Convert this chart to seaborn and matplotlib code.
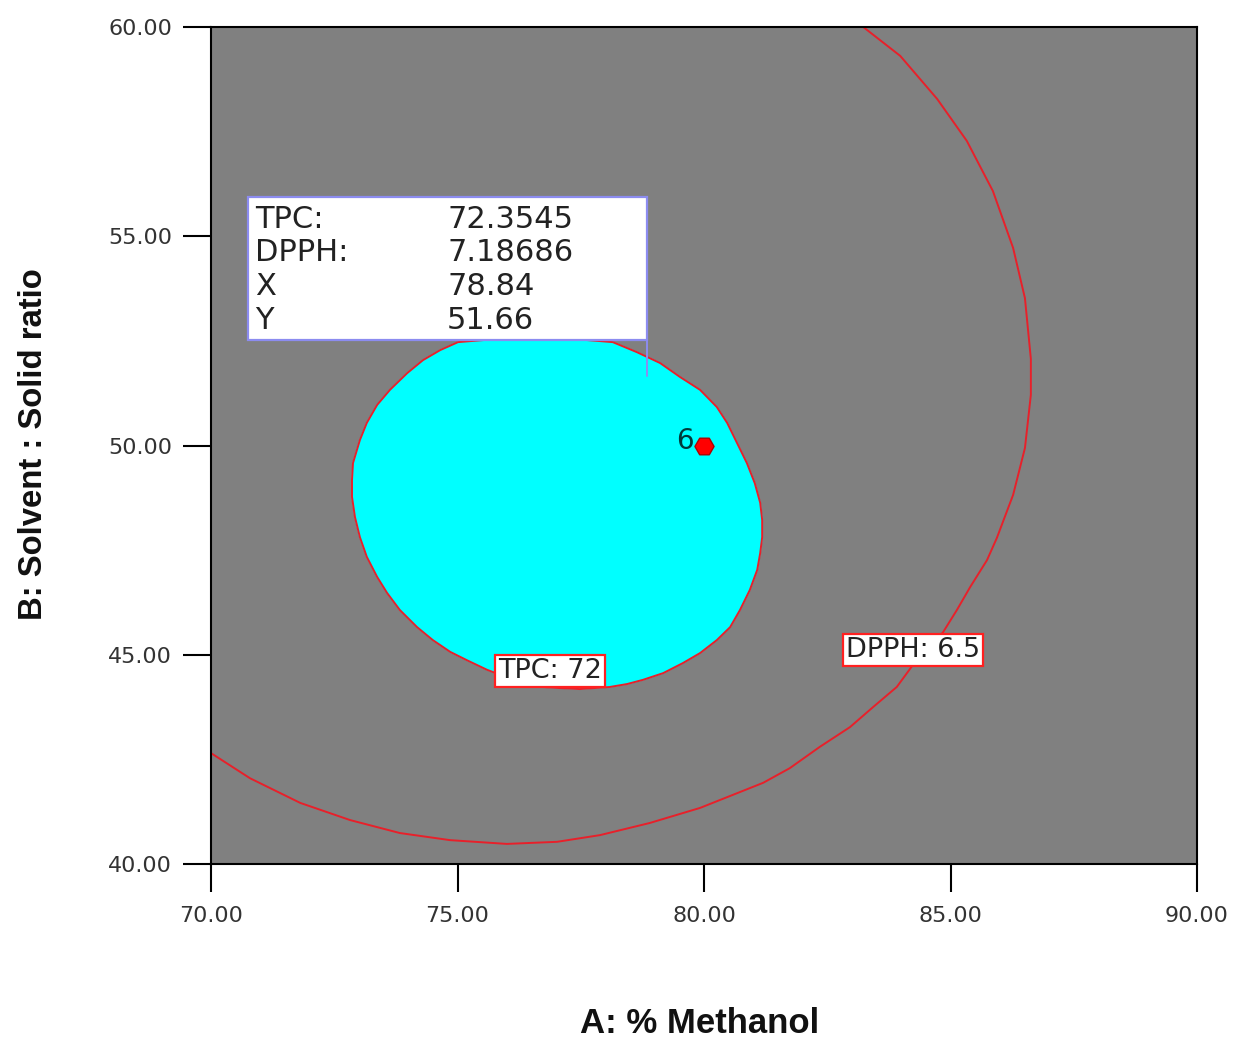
import numpy as np
import pandas as pd
import matplotlib.pyplot as plt
import seaborn as sns

# boundary of TPC >= 72 region
tpc_x = [76.57, 78.15, 78.64, 79.11, 79.51, 79.92, 80.26, 80.47, 80.67, 80.87, 81.03,
         81.14, 81.18, 81.18, 81.14, 81.08, 80.93, 80.73, 80.53, 80.26, 79.92, 79.57,
         79.17, 78.76, 78.44, 78.09, 77.48, 76.98, 76.47, 75.60, 75.19, 74.85, 74.50,
         74.18, 73.83, 73.57, 73.37, 73.16, 73.02, 72.92, 72.86, 72.86, 72.88, 73.02,
         73.16, 73.37, 73.63, 73.98, 74.30, 74.65, 75.01]
tpc_y = [52.62, 52.47, 52.23, 51.97, 51.64, 51.33, 50.92, 50.54, 50.06, 49.58, 49.10,
         48.63, 48.22, 47.81, 47.43, 47.03, 46.55, 46.07, 45.66, 45.35, 45.04, 44.80,
         44.56, 44.40, 44.30, 44.23, 44.18, 44.21, 44.25, 44.64, 44.87, 45.07, 45.35,
         45.66, 46.07, 46.48, 46.86, 47.34, 47.81, 48.29, 48.77, 49.18, 49.58, 50.13,
         50.54, 50.97, 51.33, 51.73, 52.04, 52.28, 52.47]

# DPPH = 6.5 contour
dpph_x = [70.00, 70.79, 71.81, 72.82, 73.83, 74.85, 76.00, 77.02, 77.89, 78.90, 79.92,
          81.20, 81.74, 82.35, 82.96, 83.43, 83.91, 84.24, 84.85, 85.13, 85.40, 85.74,
          85.94, 86.27, 86.51, 86.63, 86.63, 86.51, 86.27, 85.86, 85.33, 84.73, 83.98,
          83.23]
dpph_y = [42.65, 42.05, 41.46, 41.05, 40.74, 40.57, 40.48, 40.53, 40.69, 40.98, 41.34,
          41.94, 42.29, 42.80, 43.27, 43.75, 44.23, 44.76, 45.54, 46.07, 46.62, 47.26,
          47.79, 48.82, 49.94, 51.21, 52.07, 53.52, 54.72, 56.08, 57.28, 58.28, 59.31,
          60.00]

# design point
pt_x = [80.0]
pt_y = [50.0]
pt_label = ["6"]

# flag
flag_labels = ["TPC:", "DPPH:", "X", "Y"]
flag_values = ["72.3545", "7.18686", "78.84", "51.66"]
flag_x = 78.84
flag_y = 51.66

xticks = [70, 75, 80, 85, 90]
yticks = [40, 45, 50, 55, 60]

sns.set_theme(style="white")
plt.rcParams['font.family'] = ['DejaVu Sans']

fig = plt.figure(figsize=(12.34, 10.43), dpi=100)
ax = fig.add_axes([211/1234, 179/1043, 986/1234, 837/1043])
ax.set_facecolor('#808080')

tpc = pd.DataFrame({'x': tpc_x + tpc_x[:1], 'y': tpc_y + tpc_y[:1]})
dpph = pd.DataFrame({'x': dpph_x, 'y': dpph_y})

ax.fill(tpc['x'], tpc['y'], color='#00ffff', zorder=1)
sns.lineplot(data=tpc, x='x', y='y', sort=False, estimator=None, color='#e8202a', lw=1.4, ax=ax, zorder=2)
sns.lineplot(data=dpph, x='x', y='y', sort=False, estimator=None, color='#e8202a', lw=1.4, ax=ax, zorder=2)

sns.scatterplot(x=pt_x, y=pt_y, marker='H', s=190, color='#ff0000', edgecolor='#b00000', linewidth=1, ax=ax, zorder=4)
for px, py, lab in zip(pt_x, pt_y, pt_label):
    ax.text(px - 0.2, py + 0.1, lab, ha='right', va='center', fontsize=20, color='#003b3b', zorder=5)

# contour labels
ax.text(76.88, 44.61, "TPC: 72", ha='center', va='center', fontsize=19.5, color='#222222', zorder=5,
        bbox=dict(boxstyle='square,pad=0.12', fc='white', ec='#ff2020', lw=1.6))
ax.text(84.24, 45.11, "DPPH: 6.5", ha='center', va='center', fontsize=19.5, color='#222222', zorder=5,
        bbox=dict(boxstyle='square,pad=0.12', fc='white', ec='#ff2020', lw=1.6))

# flag box
box_left, box_top, box_bottom = 70.75, 55.94, 52.52
ax.add_patch(plt.Rectangle((box_left, box_bottom), flag_x - box_left, box_top - box_bottom,
                           fc='white', ec='#8c8cf0', lw=1.6, zorder=6))
ax.plot([flag_x, flag_x], [flag_y, box_bottom], color='#8c8cf0', lw=1.4, zorder=6)
ax.text(70.89, 54.20, "\n".join(flag_labels), ha='left', va='center', fontsize=22,
        linespacing=1.2, color='#222222', zorder=7)
ax.text(74.79, 54.20, "\n".join(flag_values), ha='left', va='center', fontsize=22,
        linespacing=1.2, color='#222222', zorder=7)

ax.set_xlim(70, 90)
ax.set_ylim(40, 60)
ax.set_xticks(xticks)
ax.set_yticks(yticks)
ax.set_xticklabels([f"{v:.2f}" for v in xticks])
ax.set_yticklabels([f"{v:.2f}" for v in yticks])
ax.tick_params(axis='both', direction='out', length=20, width=1.5, color='black',
               labelsize=16, labelcolor='#333333')
ax.tick_params(axis='x', pad=10, bottom=True)
ax.tick_params(axis='y', pad=8, left=True)
for s in ax.spines.values():
    s.set_color('black')
    s.set_linewidth(1.5)

ax.set_xlabel("A: % Methanol", fontsize=25, fontweight='bold', color='#111111', family='Liberation Sans')
ax.set_ylabel("B: Solvent : Solid ratio", fontsize=23.7, fontweight='bold', color='#111111', family='Liberation Sans')
ax.xaxis.label.set_va('center')
ax.xaxis.set_label_coords(0.496, -0.19)
ax.yaxis.label.set_va('center')
ax.yaxis.set_label_coords(-0.18, 0.502)

fig.savefig('out.png', dpi=100)
